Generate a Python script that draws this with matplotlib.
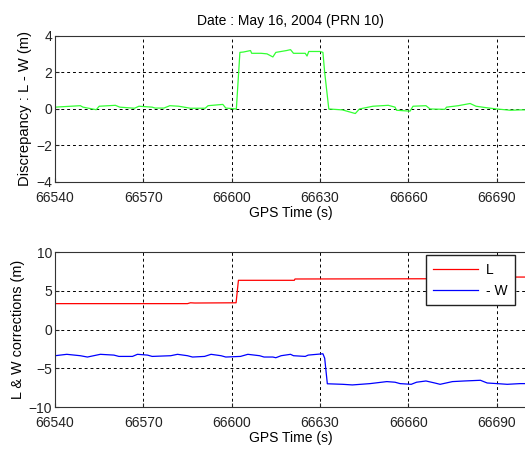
import matplotlib.pyplot as plt

plt.rcParams['font.family'] = ['Liberation Sans', 'DejaVu Sans']
plt.rcParams['font.size'] = 10

# discrepancy L - W (top panel)
t_d = [66540, 66548.6, 66549.5, 66554, 66555, 66560.5, 66562, 66567, 66568.5, 66573, 66574,
       66577, 66579, 66582, 66586, 66591, 66592, 66597, 66598, 66601.6, 66602.8, 66604,
       66606.4, 66606.8, 66610, 66612, 66614, 66615, 66618.6, 66620, 66621, 66625,
       66625.6, 66626.2, 66630, 66631, 66631.6, 66633, 66637.6, 66642, 66643.4, 66648,
       66653.2, 66655.5, 66656, 66660.6, 66661.6, 66666, 66667.4, 66672.4, 66673,
       66677, 66681, 66683, 66686.5, 66690, 66694.7, 66698, 66700]
d = [0.1, 0.18, 0.1, -0.04, 0.15, 0.2, 0.1, 0.04, 0.15, 0.1, 0.05,
     0.05, 0.18, 0.15, 0.04, 0.04, 0.18, 0.25, 0.05, 0.0, 3.1, 3.12,
     3.2, 3.05, 3.05, 3.02, 2.85, 3.1, 3.2, 3.25, 3.05, 3.05,
     2.9, 3.15, 3.15, 3.1, 2.0, 0.0, -0.05, -0.25, 0.0, 0.15,
     0.2, 0.1, -0.07, -0.12, 0.15, 0.18, 0.0, -0.02, 0.1,
     0.18, 0.3, 0.15, 0.07, 0.0, -0.07, -0.05, -0.05]

# L correction
t_l = [66540, 66585, 66586, 66587.5, 66601.5, 66602.3, 66621.3, 66621.5, 66667.6, 66675, 66675.2, 66700]
l_corr = [3.34, 3.34, 3.45, 3.42, 3.45, 6.35, 6.35, 6.52, 6.55, 6.55, 6.77, 6.77]

# -W correction
t_w = [66540, 66544, 66548.6, 66551, 66555.4, 66560, 66561.7, 66566.3, 66568, 66571.4, 66573,
       66579.3, 66581.6, 66585, 66586.7, 66590.8, 66593, 66596.4, 66598, 66603, 66605.5,
       66609.5, 66611, 66614, 66615, 66616.8, 66620, 66621, 66625, 66625, 66626,
       66631, 66631.6, 66632.5, 66637.7, 66641, 66647, 66652.7, 66655.5, 66657.2, 66661,
       66662.8, 66666, 66669, 66670.8, 66675, 66679, 66684.5, 66686.8, 66690.2, 66693.6,
       66698, 66700]
w_corr = [-3.38, -3.2, -3.38, -3.55, -3.2, -3.3, -3.47, -3.47, -3.2, -3.3, -3.47,
          -3.38, -3.2, -3.38, -3.55, -3.47, -3.2, -3.38, -3.55, -3.47, -3.2,
          -3.38, -3.55, -3.55, -3.64, -3.38, -3.2, -3.38, -3.47, -3.47, -3.3,
          -3.13, -3.7, -7.0, -7.07, -7.15, -6.98, -6.72, -6.8, -6.98, -7.07,
          -6.8, -6.64, -6.9, -7.07, -6.72, -6.64, -6.55, -6.9, -6.98, -7.07,
          -6.98, -6.98]

xticks = [66540, 66570, 66600, 66630, 66660, 66690]

fig = plt.figure(figsize=(5.25, 4.49), dpi=100)
ax1 = fig.add_axes([0.1048, 0.5947, 0.8972, 0.3252])
ax2 = fig.add_axes([0.1048, 0.0935, 0.8972, 0.3452])

ax1.plot(t_d, d, color='#33ff33', lw=0.9)
ax2.plot(t_l, l_corr, color='red', lw=0.9, label='L')
ax2.plot(t_w, w_corr, color='blue', lw=0.9, label='- W')

for ax in (ax1, ax2):
    ax.set_xlim(66540, 66700)
    ax.set_xticks(xticks)
    ax.grid(True, color='black', linestyle=(0, (3, 3)), linewidth=0.7)
    ax.tick_params(direction='in', length=3, colors='#222222', pad=2)
    ax.tick_params(axis='x', pad=6.5)
    for s in ax.spines.values():
        s.set_color('#333333')
    ax.set_xlabel('GPS Time (s)', labelpad=1)

ax1.set_ylim(-4, 4)
ax1.set_yticks([-4, -2, 0, 2, 4])
ax1.set_ylabel('Discrepancy : L - W (m)', fontsize=10.6, labelpad=3)
ax1.set_title('Date : May 16, 2004 (PRN 10)', fontsize=10, pad=8)

ax2.set_ylim(-10, 10)
ax2.set_yticks([-10, -5, 0, 5, 10])
ax2.set_ylabel('L & W corrections (m)', fontsize=10.4, labelpad=3)

leg = ax2.legend(loc='upper right', bbox_to_anchor=(0.977, 0.98), borderaxespad=0,
                 fancybox=False, edgecolor='#222222', framealpha=1,
                 handlelength=3.2, handletextpad=0.6, borderpad=0.55, labelspacing=0.5)
leg.get_frame().set_linewidth(1.0)

fig.savefig('out.png', dpi=100)
